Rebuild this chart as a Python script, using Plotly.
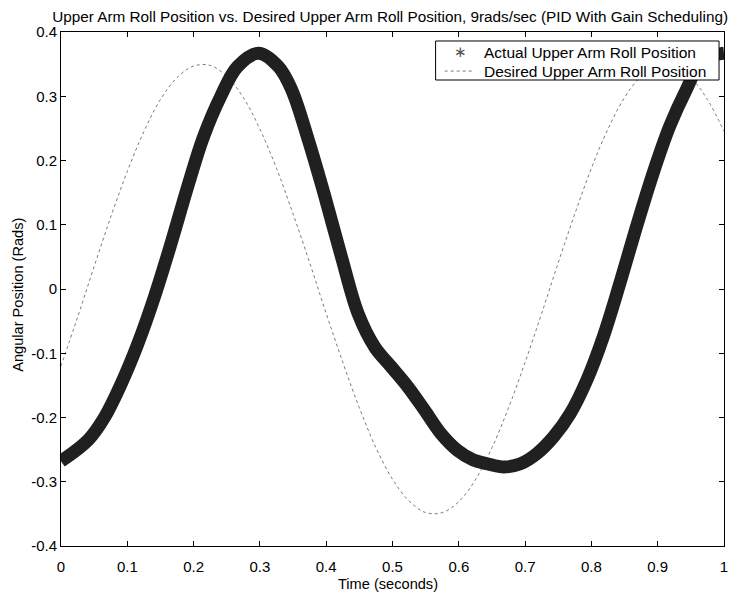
import plotly.graph_objects as go

t_actual = [0.0, 0.041, 0.066, 0.091, 0.116, 0.141, 0.166, 0.191, 0.215, 0.241, 0.266,
            0.298, 0.328, 0.348, 0.373, 0.398, 0.423, 0.448, 0.473, 0.498, 0.523, 0.548,
            0.573, 0.598, 0.622, 0.643, 0.668, 0.693, 0.718, 0.743, 0.768, 0.793, 0.818,
            0.843, 0.868, 0.893, 0.918, 0.943, 0.968, 1.0]
pos_actual = [-0.268, -0.235, -0.199, -0.147, -0.085, -0.012, 0.071, 0.159, 0.237, 0.300, 0.346,
              0.367, 0.346, 0.310, 0.232, 0.144, 0.050, -0.038, -0.090, -0.121, -0.152, -0.188,
              -0.225, -0.251, -0.266, -0.272, -0.277, -0.272, -0.256, -0.230, -0.194, -0.142, -0.074,
              0.009, 0.097, 0.180, 0.253, 0.310, 0.357, 0.367]

# Desired upper arm roll position
t_desired = [0.0, 0.025, 0.05, 0.075, 0.1, 0.125, 0.15, 0.175, 0.2, 0.225, 0.25, 0.275,
             0.3, 0.325, 0.35, 0.375, 0.4, 0.425, 0.45, 0.475, 0.5, 0.525, 0.55, 0.575,
             0.6, 0.625, 0.65, 0.675, 0.7, 0.725, 0.75, 0.775, 0.8, 0.825, 0.85, 0.875,
             0.9, 0.925, 0.95, 0.975, 1.0]
pos_desired = [-0.120, -0.044, 0.035, 0.112, 0.183, 0.245, 0.295, 0.329, 0.347, 0.348, 0.331, 0.298,
               0.249, 0.188, 0.117, 0.041, -0.038, -0.114, -0.185, -0.247, -0.296, -0.330, -0.348, -0.348,
               -0.331, -0.297, -0.247, -0.185, -0.114, -0.038, 0.041, 0.117, 0.188, 0.249, 0.298, 0.331,
               0.348, 0.347, 0.329, 0.295, 0.245]

series_names = ["Actual Upper Arm Roll Position", "Desired Upper Arm Roll Position"]

x_ticks = [0, 0.1, 0.2, 0.3, 0.4, 0.5, 0.6, 0.7, 0.8, 0.9, 1]
x_tick_labels = ["0", "0.1", "0.2", "0.3", "0.4", "0.5", "0.6", "0.7", "0.8", "0.9", "1"]
y_ticks = [-0.4, -0.3, -0.2, -0.1, 0, 0.1, 0.2, 0.3, 0.4]
y_tick_labels = ["-0.4", "-0.3", "-0.2", "-0.1", "0", "0.1", "0.2", "0.3", "0.4"]

FONT = "Liberation Sans, Arial, Helvetica, sans-serif"
DESIRED_COLOR = "#7a7a7a"
ACTUAL_COLOR = "#202020"

fig = go.Figure()

fig.add_trace(go.Scatter(
    x=t_desired, y=pos_desired, mode="lines", line_shape="spline", name=series_names[1],
    line=dict(color=DESIRED_COLOR, width=1, dash="dot"),
    showlegend=False, hoverinfo="skip"))

fig.add_trace(go.Scatter(
    x=t_actual, y=pos_actual, mode="lines", line_shape="spline", name=series_names[0],
    line=dict(color=ACTUAL_COLOR, width=13),
    showlegend=False))

axis_common = dict(
    showgrid=False, zeroline=False, showline=True, linecolor="black", linewidth=1,
    mirror="ticks", ticks="inside", ticklen=5, tickcolor="black",
    tickfont=dict(family=FONT, size=15, color="black"))

fig.update_xaxes(range=[0, 1], tickvals=x_ticks, ticktext=x_tick_labels,
                 ticklabelstandoff=7, **axis_common)
fig.update_yaxes(range=[-0.4, 0.4], tickvals=y_ticks, ticktext=y_tick_labels,
                 ticklabelstandoff=0, **axis_common)

fig.add_annotation(text="Time (seconds)", xref="paper", yref="paper",
                   x=0.493, y=-0.074, xanchor="center", yanchor="middle", showarrow=False,
                   font=dict(family=FONT, size=14.6, color="black"))
fig.add_annotation(text="Angular Position (Rads)", xref="paper", yref="paper",
                   x=-0.064, y=0.488, xanchor="center", yanchor="middle", showarrow=False,
                   textangle=-90, font=dict(family=FONT, size=14.6, color="black"))

# Legend box (MATLAB style), drawn in plot-area paper coordinates
LEG_X0, LEG_X1, LEG_Y0, LEG_Y1 = 0.565, 0.9925, 0.9066, 0.9825
ROW_Y = [0.961, 0.924]
TEXT_X = 0.6357
fig.add_shape(type="rect", xref="paper", yref="paper",
              x0=LEG_X0, x1=LEG_X1, y0=LEG_Y0, y1=LEG_Y1,
              line=dict(color="black", width=1), fillcolor="white", layer="above")
fig.add_annotation(text="∗", xref="paper", yref="paper", x=0.6027, y=ROW_Y[0],
                   xanchor="center", yanchor="middle", showarrow=False,
                   font=dict(family="DejaVu Sans", size=15, color="#555555"))
fig.add_shape(type="line", xref="paper", yref="paper",
              x0=0.5787, x1=0.6207, y0=ROW_Y[1], y1=ROW_Y[1],
              line=dict(color=DESIRED_COLOR, width=1, dash="dot"), layer="above")
for name, ry in zip(series_names, ROW_Y):
    fig.add_annotation(text=name, xref="paper", yref="paper", x=TEXT_X, y=ry,
                       xanchor="left", yanchor="middle", showarrow=False,
                       font=dict(family=FONT, size=15.5, color="black"))

fig.update_layout(
    width=732, height=586,
    margin=dict(l=53, r=12, t=24, b=48),
    paper_bgcolor="white", plot_bgcolor="white",
    title=dict(text="Upper Arm Roll Position vs. Desired Upper Arm Roll Position, 9rads/sec (PID With Gain Scheduling)",
               x=0.522, xanchor="center", y=0.9846, yanchor="middle",
               font=dict(family=FONT, size=15.3, color="black")),
    showlegend=False,
    font=dict(family=FONT, color="black"),
)

fig.write_html("out.html")
